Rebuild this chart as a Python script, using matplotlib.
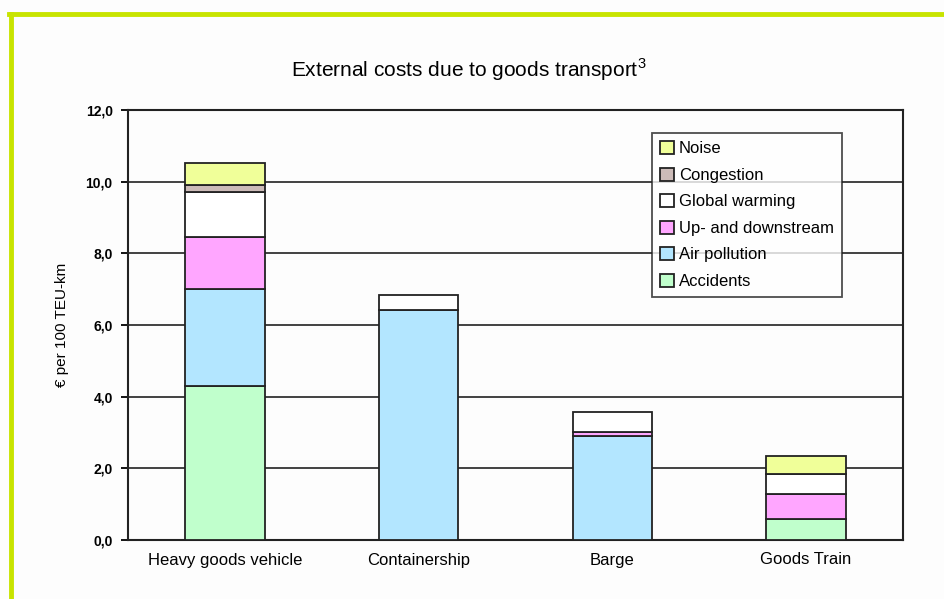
import matplotlib.pyplot as plt
from matplotlib.lines import Line2D
from matplotlib.ticker import FuncFormatter

plt.rcParams['font.family'] = ['Liberation Sans', 'DejaVu Sans']
plt.rcParams['mathtext.fontset'] = 'custom'
plt.rcParams['mathtext.rm'] = 'Liberation Sans'

categories = ["Heavy goods vehicle", "Containership", "Barge", "Goods Train"]
accidents = [4.3, 0.0, 0.0, 0.6]
air_pollution = [2.7, 6.42, 2.9, 0.0]
up_downstream = [1.45, 0.0, 0.12, 0.68]
global_warming = [1.26, 0.41, 0.56, 0.56]
congestion = [0.21, 0.0, 0.0, 0.0]
noise = [0.59, 0.0, 0.0, 0.51]

series = [
    ("Accidents", accidents, "#c0ffcc"),
    ("Air pollution", air_pollution, "#b3e6ff"),
    ("Up- and downstream", up_downstream, "#ffa6ff"),
    ("Global warming", global_warming, "#ffffff"),
    ("Congestion", congestion, "#ccbbb8"),
    ("Noise", noise, "#f0ff99"),
]

fig = plt.figure(figsize=(9.44, 5.99), dpi=100)
fig.patch.set_facecolor("#fdfdfd")

# green frame along the top and left edge
fig.add_artist(Line2D([10.5 / 944, 10.5 / 944], [0, 1 - 14 / 599],
                      transform=fig.transFigure, color="#c8e400", lw=3.5))
fig.add_artist(Line2D([9 / 944, 1], [1 - 14 / 599, 1 - 14 / 599],
                      transform=fig.transFigure, color="#c8e400", lw=3.5))

ax = fig.add_axes([128 / 944, 59 / 599, 775 / 944, 430 / 599])
ax.set_facecolor("#fdfdfd")

x = range(len(categories))
bottom = [0.0] * len(categories)
handles = []
for name, vals, col in series:
    bars = ax.bar(x, vals, width=0.41, bottom=bottom, color=col,
                  edgecolor="#222222", linewidth=1.3, zorder=3, label=name)
    # hide zero-height segments
    for b, v in zip(bars, vals):
        if v == 0:
            b.set_visible(False)
    handles.append(bars)
    bottom = [b + v for b, v in zip(bottom, vals)]

ax.set_xlim(-0.5, 3.5)
ax.set_ylim(0, 12)
ax.set_yticks(range(0, 13, 2))
ax.yaxis.set_major_formatter(FuncFormatter(lambda v, p: f"{v:.1f}".replace(".", ",")))
ax.yaxis.grid(True, color="#333333", lw=1.3, zorder=0)
ax.set_xticks(list(x))
ax.set_xticklabels(categories, fontsize=12)
ax.tick_params(axis="x", length=0, pad=9)
ax.tick_params(axis="y", length=5, width=1.3, labelsize=10, pad=6, direction="out")
for lbl in ax.get_yticklabels():
    lbl.set_fontweight("bold")
for s in ax.spines.values():
    s.set_color("#222222")
    s.set_linewidth(1.5)

ax.set_ylabel("€ per 100 TEU-km", fontsize=11, labelpad=12)

fig.text(0.497, 1 - 70 / 599, "External costs due to goods transport$^{3}$",
         ha="center", va="center", fontsize=15)

leg = ax.legend(handles[::-1], [s[0] for s in series][::-1],
                loc="upper left", bbox_to_anchor=(524 / 775, 1 - 23 / 430),
                borderaxespad=0, fontsize=12, frameon=True, fancybox=False,
                edgecolor="#222222", handlelength=0.8, handleheight=0.8,
                handletextpad=0.3, labelspacing=0.68, borderpad=0.5)
leg.get_frame().set_linewidth(1.3)
leg.get_frame().set_facecolor("#ffffff")

fig.savefig("out.png", dpi=100, facecolor=fig.get_facecolor())
